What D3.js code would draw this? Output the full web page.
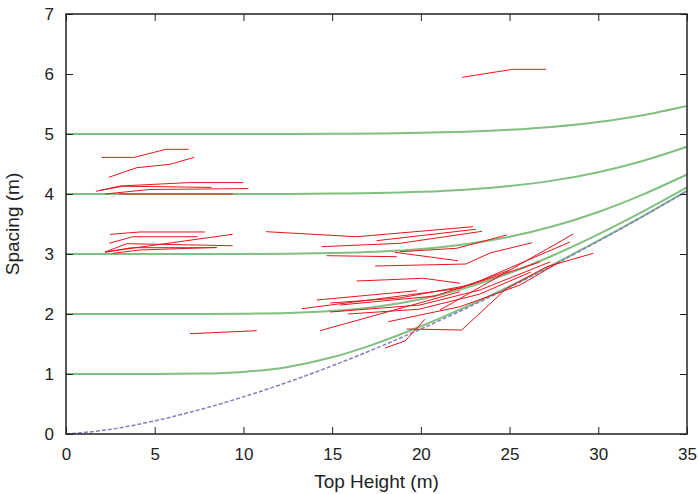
<!DOCTYPE html>
<html>
<head>
<meta charset="utf-8">
<script src="https://cdn.jsdelivr.net/npm/d3@7"></script>
<style>
  body { margin: 0; background: #fff; }
  text { font-family: "Liberation Sans", Arial, sans-serif; }
</style>
</head>
<body>
<script>
// top height samples and the curves
const heights = [0, 2.5, 5, 7.5, 10, 12.5, 15, 17.5, 20, 22.5, 25, 27.5, 30, 32.5, 35];
const limitLine = [0, 0.077, 0.219, 0.402, 0.619, 0.864, 1.136, 1.432, 1.750, 2.088, 2.445, 2.821, 3.214, 3.624, 4.050];
const curve1 = [1, 1, 1.001, 1.007, 1.035, 1.117, 1.278, 1.511, 1.795, 2.115, 2.462, 2.832, 3.222, 3.629, 4.054];
const curve2 = [2, 2, 2, 2.001, 2.005, 2.017, 2.050, 2.120, 2.245, 2.433, 2.682, 2.984, 3.328, 3.705, 4.109];
const curve3 = [3, 3, 3, 3, 3.001, 3.005, 3.015, 3.038, 3.083, 3.162, 3.287, 3.466, 3.701, 3.990, 4.325];
const curve4 = [4, 4, 4, 4, 4.001, 4.002, 4.007, 4.016, 4.036, 4.072, 4.133, 4.227, 4.364, 4.550, 4.787];
const curve5 = [5, 5, 5, 5, 5, 5, 5.003, 5.008, 5.019, 5.038, 5.070, 5.122, 5.201, 5.314, 5.468];
const curves = [curve1, curve2, curve3, curve4, curve5];

// measured stands: [top height, spacing] per visit
const stands = [
  [[22.34, 5.945], [25.18, 6.078], [27.05, 6.078]],
  [[2.01, 4.61], [3.83, 4.61], [5.64, 4.745], [6.92, 4.745]],
  [[2.41, 4.278], [3.98, 4.438], [5.86, 4.495], [7.23, 4.61]],
  [[1.69, 4.045], [3.04, 4.133], [6.92, 4.19], [9.99, 4.19]],
  [[1.92, 4.06], [3.2, 4.13], [8.2, 4.11]],
  [[2.2, 4.0], [4.7, 4.075], [10.28, 4.09]],
  [[3.0, 4.0], [9.4, 4.0]],
  [[2.48, 3.328], [4.17, 3.367], [7.83, 3.367]],
  [[2.44, 3.178], [3.76, 3.288], [7.42, 3.288]],
  [[2.20, 3.033], [3.42, 3.172], [9.39, 3.138]],
  [[2.20, 3.033], [9.39, 3.328]],
  [[2.2, 3.03], [3.70, 3.105], [8.49, 3.105]],
  [[2.63, 3.01], [4.17, 3.067], [8.49, 3.11]],
  [[6.99, 1.672], [10.75, 1.722]],
  [[11.27, 3.372], [16.38, 3.288], [22.94, 3.455]],
  [[17.51, 3.222], [23.11, 3.412]],
  [[14.41, 3.122], [18.82, 3.178], [23.45, 3.378]],
  [[14.69, 2.972], [18.64, 2.955]],
  [[18.54, 3.028], [22.09, 2.888]],
  [[18.82, 3.038], [22.02, 3.095], [24.84, 3.317]],
  [[17.42, 2.8], [22.54, 2.833], [23.90, 3.017], [26.26, 3.188]],
  [[16.38, 2.55], [20.14, 2.595], [22.21, 2.512]],
  [[14.13, 2.233], [19.77, 2.388]],
  [[13.28, 2.088], [22.21, 2.428], [25.02, 2.733]],
  [[14.88, 2.183], [18.82, 2.267], [22.77, 2.483], [26.71, 2.867]],
  [[14.88, 2.033], [19.95, 2.15], [23.33, 2.4], [27.28, 2.867]],
  [[14.32, 1.722], [22.21, 2.372]],
  [[18.17, 1.872], [22.21, 2.122], [25.59, 2.483], [27.84, 2.867]],
  [[19.2, 1.75], [22.3, 1.733], [24.84, 2.428], [27.09, 2.788], [29.72, 3.012]],
  [[17.98, 1.433], [19.11, 1.55], [20.23, 1.912]],
  [[21.08, 2.067], [28.59, 3.333]],
  [[15.44, 2.15], [20.8, 2.3], [23.3, 2.55], [28.4, 3.2]],
  [[15.9, 2.0], [19.9, 2.08], [23.3, 2.33], [26.2, 2.7]]
];

const xTicks = [0, 5, 10, 15, 20, 25, 30, 35];
const yTicks = [0, 1, 2, 3, 4, 5, 6, 7];

const width = 698, height = 494;
const margin = {left: 66, right: 11, top: 14, bottom: 60};

const svg = d3.select("body").append("svg")
  .attr("width", width)
  .attr("height", height);

const x = d3.scaleLinear().domain([0, 35]).range([margin.left, width - margin.right]);
const y = d3.scaleLinear().domain([0, 7]).range([height - margin.bottom, margin.top]);

// green reference curves
const curveLine = d3.line()
  .x((d, i) => x(heights[i]))
  .y(d => y(d))
  .curve(d3.curveMonotoneX);

svg.selectAll(".ref")
  .data(curves)
  .enter().append("path")
  .attr("class", "ref")
  .attr("d", curveLine)
  .attr("fill", "none")
  .attr("stroke", "#80c080")
  .attr("stroke-width", 2);

// dashed limit
svg.append("path")
  .attr("d", curveLine(limitLine))
  .attr("fill", "none")
  .attr("stroke", "#8080c0")
  .attr("stroke-width", 1.5)
  .attr("stroke-dasharray", "4,2");

// stand trajectories
const standLine = d3.line().x(d => x(d[0])).y(d => y(d[1]));
svg.selectAll(".stand")
  .data(stands)
  .enter().append("path")
  .attr("class", "stand")
  .attr("d", standLine)
  .attr("fill", "none")
  .attr("stroke", "#e8141c")
  .attr("stroke-width", 1);

// axes, gnuplot style with inward ticks on all sides
const tickLen = 7;
svg.append("g")
  .attr("transform", `translate(0,${y(0)})`)
  .call(d3.axisBottom(x).tickValues(xTicks).tickSize(-tickLen).tickPadding(14).tickFormat(d3.format("d")))
  .call(g => g.select(".domain").remove());

svg.append("g")
  .attr("transform", `translate(0,${y(7)})`)
  .call(d3.axisTop(x).tickValues(xTicks).tickSize(-tickLen).tickFormat(""))
  .call(g => g.select(".domain").remove());

svg.append("g")
  .attr("transform", `translate(${x(0)},0)`)
  .call(d3.axisLeft(y).tickValues(yTicks).tickSize(-tickLen).tickPadding(12).tickFormat(d3.format("d")))
  .call(g => g.select(".domain").remove());

svg.append("g")
  .attr("transform", `translate(${x(35)},0)`)
  .call(d3.axisRight(y).tickValues(yTicks).tickSize(-tickLen).tickFormat(""))
  .call(g => g.select(".domain").remove());

svg.selectAll(".tick line").attr("stroke", "#222");
svg.selectAll(".tick text")
  .attr("font-size", 17)
  .attr("fill", "#222")
  .style("font-family", "Liberation Sans, Arial, sans-serif");

// frame
svg.append("rect")
  .attr("x", x(0))
  .attr("y", y(7))
  .attr("width", x(35) - x(0))
  .attr("height", y(0) - y(7))
  .attr("fill", "none")
  .attr("stroke", "#222")
  .attr("stroke-width", 1.5);

svg.append("text")
  .attr("x", (x(0) + x(35)) / 2)
  .attr("y", 488)
  .attr("text-anchor", "middle")
  .attr("font-size", 19)
  .attr("fill", "#222")
  .text("Top Height (m)");

svg.append("text")
  .attr("transform", `translate(19,${(y(0) + y(7)) / 2}) rotate(-90)`)
  .attr("text-anchor", "middle")
  .attr("font-size", 19)
  .attr("fill", "#222")
  .text("Spacing (m)");
</script>
</body>
</html>
